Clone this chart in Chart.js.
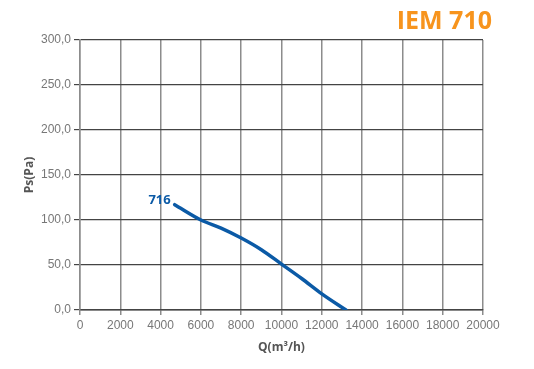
<!DOCTYPE html>
<html>
<head>
<meta charset="utf-8">
<script src="https://cdn.jsdelivr.net/npm/chart.js@4"></script>
<style>
  html, body { margin: 0; padding: 0; background: #fff; }
  #wrap { width: 534px; height: 369px; }
</style>
</head>
<body>
<div id="wrap"><canvas id="chart" width="534" height="369"></canvas></div>
<script>
// curve 716
const flow = [4700, 6000, 7000, 8000, 9000, 10000, 11000, 12000, 13200];
const pressure = [117, 100, 91, 80, 67, 51, 35, 18, 0];
const seriesName = '716';
const chartTitle = 'IEM 710';
const xTicks = [0, 2000, 4000, 6000, 8000, 10000, 12000, 14000, 16000, 18000, 20000];
const yTicks = [0, 50, 100, 150, 200, 250, 300];

const tickFont = "'Liberation Sans', sans-serif";

// title and curve label drawn on top
const textPlugin = {
    id: 'textPlugin',
    afterDraw(chart) {
        const ctx = chart.ctx;
        ctx.save();
        ctx.fillStyle = '#f7941d';
        ctx.font = "bold 25px 'Open Sans', sans-serif";
        ctx.textAlign = 'right';
        ctx.textBaseline = 'middle';
        ctx.fillText(chartTitle, 492, 22);

        const meta = chart.getDatasetMeta(0);
        const p = meta.data[0];
        ctx.fillStyle = '#0b5aa6';
        ctx.font = "bold 13px 'Open Sans', sans-serif";
        ctx.textAlign = 'right';
        ctx.fillText(seriesName, p.x - 4, p.y - 4);
        ctx.restore();
    }
};

const ctx = document.getElementById('chart');
const myChart = new Chart(ctx, {
    type: 'line',
    data: {
        datasets: [{
            label: seriesName,
            data: flow.map((q, i) => ({ x: q, y: pressure[i] })),
            borderColor: '#0b5aa6',
            borderWidth: 3.5,
            pointRadius: 0,
            cubicInterpolationMode: 'monotone',
            borderCapStyle: 'round',
        }],
    },
    options: {
        responsive: false,
        animation: false,
        layout: { padding: { left: 22, right: 51, top: 40, bottom: 14 } },
        plugins: {
            legend: { display: false },
            tooltip: { enabled: false },
        },
        scales: {
            x: {
                type: 'linear',
                min: 0,
                max: 20000,
                afterBuildTicks: (axis) => { axis.ticks = xTicks.map(v => ({ value: v })); },
                afterFit: (axis) => { axis.height = 45; },
                grid: { color: '#8c8c8c', lineWidth: 1.5, tickLength: 5 },
                border: { color: '#444', width: 1.5 },
                ticks: {
                    color: '#777',
                    font: { family: tickFont, size: 12 },
                    padding: 3,
                    maxRotation: 0,
                    callback: (v) => String(v),
                },
                title: {
                    display: true,
                    text: 'Q(m³/h)',
                    color: '#555',
                    font: { family: "'Open Sans', sans-serif", size: 12, weight: 'bold' },
                    padding: { top: 2, bottom: 0 },
                },
            },
            y: {
                min: 0,
                max: 300,
                afterBuildTicks: (axis) => { axis.ticks = yTicks.map(v => ({ value: v })); },
                afterFit: (axis) => { axis.width = 58; },
                grid: { color: '#444', lineWidth: 1.2, tickLength: 6 },
                border: { color: '#8c8c8c', width: 1.5 },
                ticks: {
                    color: '#777',
                    font: { family: tickFont, size: 12 },
                    padding: 3,
                    callback: (v) => v.toFixed(1).replace('.', ','),
                },
                title: {
                    display: true,
                    text: 'Ps(Pa)',
                    color: '#555',
                    font: { family: "'Open Sans', sans-serif", size: 12, weight: 'bold' },
                    padding: { top: 0, bottom: 0 },
                },
            },
        },
    },
    plugins: [textPlugin],
});
</script>
</body>
</html>
